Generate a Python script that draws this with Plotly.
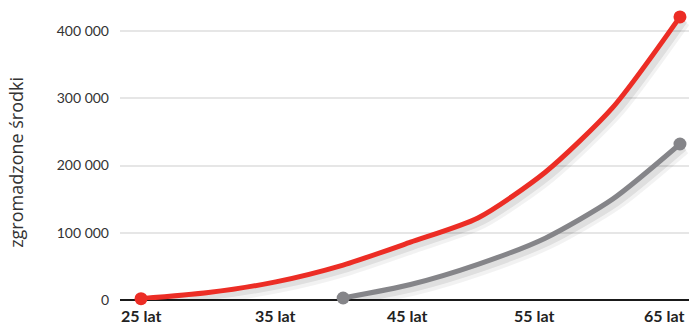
import plotly.graph_objects as go

# Data
red_age = [25, 30, 35, 40, 45, 50, 55, 60, 65]
red_val = [2000, 11000, 27000, 52000, 86000, 122000, 190000, 286000, 421000]
gray_age = [40, 45, 50, 55, 60, 65]
gray_val = [3000, 23000, 53000, 92000, 150000, 232000]
x_ticks = [25, 35, 45, 55, 65]
x_labels = ["25 lat", "35 lat", "45 lat", "55 lat", "65 lat"]
y_ticks = [0, 100000, 200000, 300000, 400000]
y_labels = ["0", "100 000", "200 000", "300 000", "400 000"]
y_title = "zgromadzone środki"

RED = "#ec2d25"
GRAY = "#858589"
FONT = "Lato"

fig = go.Figure()

# soft shadows
for ages, vals in [(red_age, red_val), (gray_age, gray_val)]:
    for w, a, off in [(13, 0.05, 6500), (8, 0.08, 4500)]:
        fig.add_trace(go.Scatter(
            x=[v + 0.3 for v in ages], y=[v - off for v in vals], mode="lines",
            line=dict(color=f"rgba(0,0,0,{a})", width=w, shape="spline", smoothing=0.7),
            hoverinfo="skip", showlegend=False, cliponaxis=False))

for ages, vals, col in [(red_age, red_val, RED), (gray_age, gray_val, GRAY)]:
    fig.add_trace(go.Scatter(
        x=ages, y=vals, mode="lines",
        line=dict(color=col, width=5, shape="spline", smoothing=0.7),
        showlegend=False, cliponaxis=False))
    fig.add_trace(go.Scatter(
        x=[ages[0], ages[-1]], y=[vals[0], vals[-1]], mode="markers",
        marker=dict(color=col, size=13), showlegend=False, cliponaxis=False))

label_shift = [0, -1, -4, -11, -16]
for xv, txt, sh in zip(x_ticks, x_labels, label_shift):
    fig.add_annotation(x=xv, y=0, yref="y", xref="x", text=f"<b>{txt}</b>",
                       showarrow=False, yanchor="top", yshift=-5, xshift=sh,
                       borderpad=0,
                       font=dict(family=FONT, size=16, color="#222222"))

fig.add_annotation(xref="paper", yref="paper", x=-0.183, y=0.46, text=y_title,
                   textangle=-90, showarrow=False, xanchor="center", yanchor="middle",
                   font=dict(family="Open Sans", size=18, color="#333333"))

fig.update_layout(
    width=689, height=325,
    margin=dict(l=120, r=0, t=0, b=25),
    paper_bgcolor="white", plot_bgcolor="white",
    font=dict(family=FONT, size=14, color="#333333"),
    xaxis=dict(range=[23.44, 65.67], showgrid=False, zeroline=False,
               showticklabels=False, showline=False, fixedrange=True),
    yaxis=dict(range=[0, 446100], tickvals=y_ticks, ticktext=y_labels,
               showgrid=True, gridcolor="#e6e6e6", gridwidth=1.5,
               zeroline=True, zerolinecolor="#1a1a1a", zerolinewidth=2,
               ticks="", ticklabelstandoff=10,
               tickfont=dict(family=FONT, size=14, color="#333333")),
)

fig.write_html("out.html")
